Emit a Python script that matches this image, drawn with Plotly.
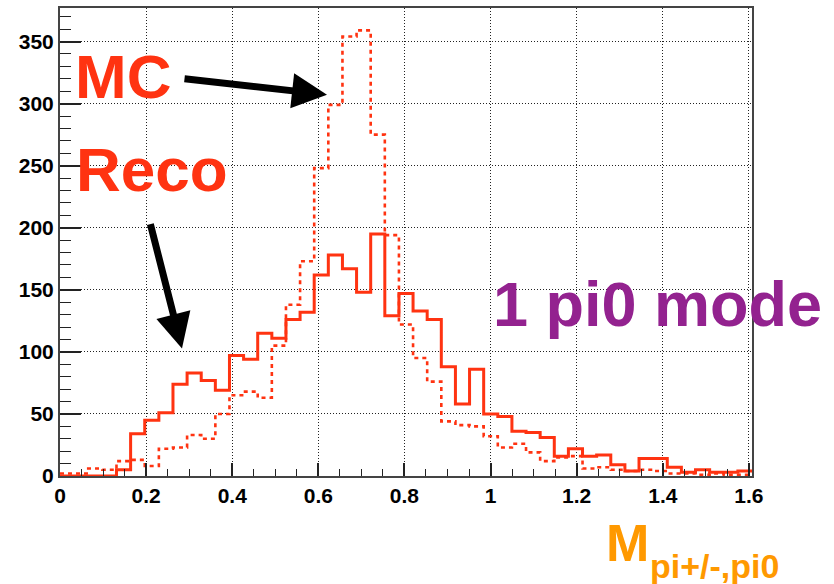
import numpy as np
import plotly.graph_objects as go

# Histogram binning (49 bins starting at 0)
bin_width = 0.0328
n_bins = 49

# Reconstructed invariant mass spectrum (solid)
reco_counts = [0, 0, 0, 0, 5, 34, 45, 51, 74, 83, 77, 69, 97, 94, 115, 111,
               126, 132, 162, 178, 167, 148, 195, 129, 147, 133, 126, 88, 58,
               86, 50, 48, 36, 35, 31, 16, 22, 16, 17, 9, 4, 14, 14, 7, 3, 5,
               3, 3, 4]
# Monte Carlo truth spectrum (dotted)
mc_counts = [2, 2, 6, 5, 12, 13, 8, 22, 23, 33, 30, 50, 65, 68, 63, 105, 138,
             173, 248, 299, 354, 359, 275, 194, 122, 95, 76, 44, 41, 40, 32,
             23, 26, 19, 12, 15, 16, 6, 7, 5, 4, 5, 4, 2, 2, 1, 2, 1, 1]

x_ticks = [0, 0.2, 0.4, 0.6, 0.8, 1.0, 1.2, 1.4, 1.6]
x_tick_text = ["0", "0.2", "0.4", "0.6", "0.8", "1", "1.2", "1.4", "1.6"]
y_ticks = [0, 50, 100, 150, 200, 250, 300, 350]

RED = "#ff3311"
FONT = "Liberation Sans"

edges = np.arange(n_bins + 1) * bin_width


def step_y(counts):
    return list(counts) + [counts[-1]]


fig = go.Figure()
fig.add_trace(go.Scatter(x=edges, y=step_y(reco_counts), mode="lines",
                         line=dict(color=RED, width=3, shape="hv"),
                         name="Reco", showlegend=False))
fig.add_trace(go.Scatter(x=edges, y=step_y(mc_counts), mode="lines",
                         line=dict(color=RED, width=2.6, shape="hv", dash="4px,4px"),
                         name="MC", showlegend=False))

W, H = 834, 584
ML, MR, MT, MB = 60, 82, 6, 108
PW, PH = W - ML - MR, H - MT - MB


def px(xp):
    return (xp - ML) / PW


def py(yp):
    return (H - MB - yp) / PH


tick_font = dict(family=FONT, size=21, color="black", weight="bold")

fig.update_xaxes(range=[0, n_bins * bin_width], tickvals=x_ticks, ticktext=x_tick_text,
                 ticks="inside", ticklen=13, tickwidth=1.5, tickcolor="#222",
                 minor=dict(dtick=0.05, tick0=0, ticks="inside", ticklen=7,
                            tickwidth=1.2, tickcolor="#222", showgrid=False),
                 showgrid=True, gridcolor="#222", griddash="1px,2px", gridwidth=1,
                 showline=True, linecolor="#444", linewidth=2, mirror=True,
                 tickfont=tick_font, zeroline=False)
fig.update_yaxes(range=[0, 377], tickvals=y_ticks,
                 ticks="inside", ticklen=21, tickwidth=1.5, tickcolor="#222",
                 minor=dict(dtick=10, tick0=0, ticks="inside", ticklen=11,
                            tickwidth=1.2, tickcolor="#222", showgrid=False),
                 showgrid=True, gridcolor="#222", griddash="1px,2px", gridwidth=1,
                 showline=True, linecolor="#444", linewidth=2, mirror=True,
                 tickfont=tick_font, zeroline=False)

annotations = [
    # labels
    dict(text="MC", x=px(123), y=py(75), font=dict(family=FONT, size=62, color=RED, weight="bold")),
    dict(text="Reco", x=px(152), y=py(168), font=dict(family=FONT, size=62, color=RED, weight="bold")),
    dict(text="1 pi0 mode", x=px(657), y=py(303), font=dict(family=FONT, size=63, color="#93228f", weight="bold")),
    dict(text="M", x=px(627), y=py(543), font=dict(family=FONT, size=52, color="#ff9900", weight="bold")),
    dict(text="pi+/-,pi0", x=px(714), y=py(566), font=dict(family=FONT, size=34, color="#ff9900", weight="bold")),
]
for a in annotations:
    a.update(xref="paper", yref="paper", showarrow=False, xanchor="center", yanchor="middle")

# arrows pointing from the labels to the curves
arrows = [
    dict(x=px(327), y=py(93), ax=183 - 327, ay=77 - 93),
    dict(x=px(182), y=py(348), ax=150 - 182, ay=222 - 348),
]
for a in arrows:
    a.update(xref="paper", yref="paper", axref="pixel", ayref="pixel", text="",
             showarrow=True, arrowhead=2, arrowsize=1, arrowwidth=7,
             arrowcolor="black", standoff=0)

fig.update_layout(width=W, height=H, margin=dict(l=ML, r=MR, t=MT, b=MB),
                  paper_bgcolor="white", plot_bgcolor="white",
                  annotations=annotations + arrows, showlegend=False)

fig.write_html("out.html")
